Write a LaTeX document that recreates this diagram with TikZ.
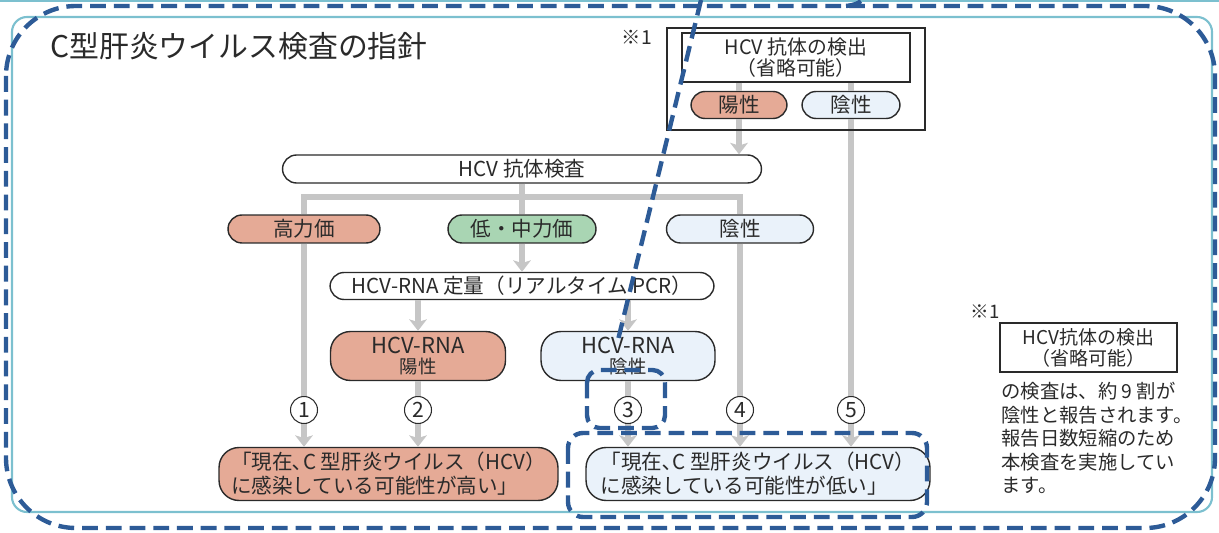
\documentclass[tikz,border=0pt]{standalone}
\usepackage{fontspec}
\setmainfont{Noto Sans CJK JP}
\usetikzlibrary{arrows.meta}
\definecolor{flowgray}{HTML}{C6C6C6}
\definecolor{pinkfill}{HTML}{E5AA96}
\definecolor{greenfill}{HTML}{A9D5B3}
\definecolor{bluefill}{HTML}{EAF2FA}
\definecolor{frameteal}{HTML}{7CC0CF}
\definecolor{markblue}{HTML}{2D5B97}
\definecolor{inkgray}{HTML}{2A2A2A}

\tikzset{
  pill/.style={draw=inkgray, line width=0.8pt, rounded corners=0.28cm, minimum height=0.56cm, inner sep=0pt},
  tallbox/.style={draw=inkgray, line width=0.8pt, rounded corners=0.4cm, minimum height=0.98cm, align=center, inner sep=0pt},
  sqbox/.style={draw=inkgray, line width=0.7pt, fill=white, align=center, inner sep=0pt},
  flow/.style={draw=flowgray, line width=3.4pt},
  num/.style={circle, draw=inkgray, line width=0.6pt, fill=white, minimum size=0.54cm, inner sep=0pt, font=\fontsize{12}{12}\selectfont},
  markline/.style={draw=markblue, line width=2.5pt, dash pattern=on 9pt off 4.5pt}
}

\begin{document}
\begin{tikzpicture}[x=0.02cm, y=-0.02cm, >={Stealth[length=6.5pt,width=10pt,inset=1.5pt]},
  font=\fontsize{11.7}{14}\selectfont, text=inkgray]
\useasboundingbox (0,0) rectangle (1219,533);
\draw[frameteal, line width=1pt] (0,1) -- (1219,1);
\draw[frameteal, line width=1.2pt, rounded corners=0.3cm] (12,17) rectangle (1212,512);

% title, box in the top right
\node[anchor=west, font=\fontsize{17}{20}\selectfont] (title) at (44,46) {C型肝炎ウイルス検査の指針};
\node[font=\fontsize{11}{12}\selectfont] (star1) at (637,37) {※1};
\node[sqbox, minimum width=4.56cm, minimum height=0.98cm, font=\fontsize{11.3}{12}\selectfont] (inbox) at (796,57.5) {HCV 抗体の検出\\（省略可能）};
\node[pill, fill=pinkfill, minimum width=1.92cm, minimum height=0.54cm] (posA) at (739,105) {陽性};
\node[pill, fill=bluefill, minimum width=1.96cm, minimum height=0.54cm] (negA) at (851,105) {陰性};

% flow chart
\node[pill, fill=white, minimum width=9.58cm] (test) at (522,169) {HCV 抗体検査};
\node[pill, fill=pinkfill, minimum width=3.04cm] (high) at (304,229) {高力価};
\node[pill, fill=greenfill, minimum width=2.96cm] (mid) at (522,229) {低・中力価};
\node[pill, fill=bluefill, minimum width=2.94cm] (neg) at (740,229) {陰性};
\node[pill, fill=white, minimum width=7.68cm, minimum height=0.54cm] (pcr) at (522,286) {HCV-RNA 定量（リアルタイム PCR）};
\node[tallbox, fill=pinkfill, minimum width=3.5cm, font=\fontsize{12.5}{11}\selectfont] (rnapos) at (418,356) {HCV-RNA\\{\fontsize{10.5}{11}\selectfont 陽性}};
\node[tallbox, fill=bluefill, minimum width=3.48cm, font=\fontsize{12.5}{11}\selectfont] (rnaneg) at (628,356) {HCV-RNA\\{\fontsize{10.5}{11}\selectfont 陰性}};
\node[tallbox, fill=pinkfill, minimum width=6.78cm, minimum height=1.06cm, align=left, font=\fontsize{11.7}{13.6}\selectfont] (lowpos) at (388.5,474) {「現在､C 型肝炎ウイルス（HCV）\\に感染している可能性が高い」};
\node[tallbox, fill=bluefill, minimum width=6.88cm, minimum height=1.06cm, align=left, font=\fontsize{11.7}{13.6}\selectfont] (lowneg) at (758,474) {「現在､C 型肝炎ウイルス（HCV）\\に感染している可能性が低い」};
\foreach \n/\x in {1/304,2/418,3/628,4/740,5/851}
  \node[num] (n\n) at (\x,410) {\n};

% connectors
\coordinate (fork) at (522,197);
\draw[flow] (posA.north |- inbox.south) -- (posA.north);
\draw[flow] (negA.north |- inbox.south) -- (negA.north);
\draw[flow,->] (posA.south) -- (posA.south |- test.north);
\draw[flow] (test.south) -- (fork);
\draw[flow] (high.north) |- (fork) -| (neg.north);
\draw[flow] (fork) -- (mid.north);
\draw[flow,->] (mid.south) -- (pcr.north);
\draw[flow,->] (pcr.south -| rnapos.north) -- (rnapos.north);
\draw[flow,->] (pcr.south -| rnaneg.north) -- (rnaneg.north);
\draw[flow] (high.south) -- (n1);
\draw[flow] (rnapos.south) -- (n2);
\draw[flow] (rnaneg.south) -- (n3);
\draw[flow] (neg.south) -- (n4);
\draw[flow] (negA.south) -- (n5);
\foreach \n in {1,2}
  \draw[flow,->] (n\n) -- (n\n |- lowpos.north);
\foreach \n in {3,4,5}
  \draw[flow,->] (n\n) -- (n\n |- lowneg.north);
\node[draw=inkgray, line width=1.2pt, minimum width=5.16cm, minimum height=2.04cm, inner sep=0pt] (grp) at (796,79) {};

% note on the right
\node[font=\fontsize{10.6}{12}\selectfont] (star2) at (985,312) {※1};
\node[sqbox, minimum width=3.54cm, minimum height=0.98cm, font=\fontsize{10.8}{12}\selectfont] (notebox) at (1088.5,347.5) {HCV抗体の検出\\（省略可能）};
\node[anchor=north west, align=left, inner sep=0pt, font=\fontsize{11}{13.4}\selectfont] (note) at (1001,382) {の検査は、約 9 割が\\陰性と報告されます。\\報告日数短縮のため\\本検査を実施してい\\ます。};

% dashed marks
\draw[markline, rounded corners=1.4cm] (6,6) rectangle (1215,528);
\draw[markline] (701,0) -- (618,340);
\draw[markline] (846,6) .. controls (856,5) and (862,2) .. (866,-4);
\draw[markline, rounded corners=0.25cm] (587,370) rectangle (665,428);
\draw[markline, rounded corners=0.3cm] (568,433) rectangle (927,517);
\end{tikzpicture}
\end{document}
